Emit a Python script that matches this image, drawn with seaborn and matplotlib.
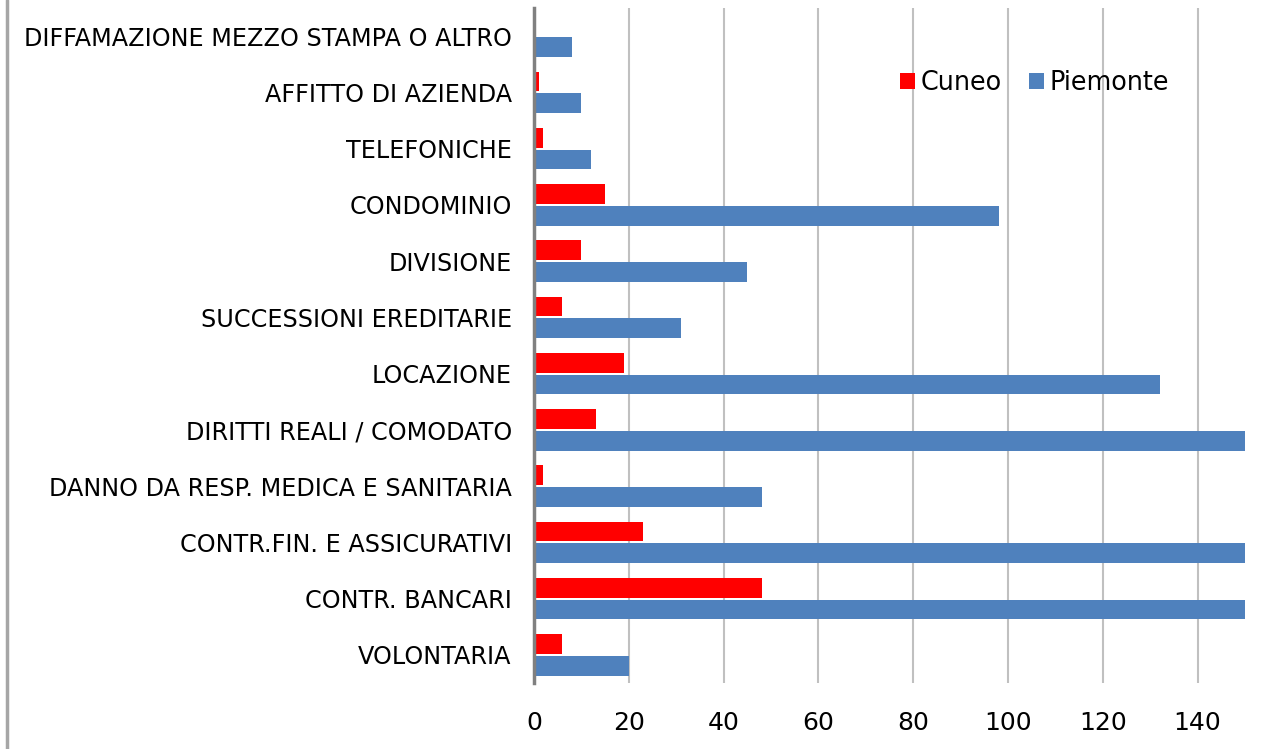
import matplotlib
matplotlib.use("Agg")
import matplotlib.pyplot as plt
import seaborn as sns
import pandas as pd
from matplotlib.lines import Line2D

categories = [
    "DIFFAMAZIONE MEZZO STAMPA O ALTRO",
    "AFFITTO DI AZIENDA",
    "TELEFONICHE",
    "CONDOMINIO",
    "DIVISIONE",
    "SUCCESSIONI EREDITARIE",
    "LOCAZIONE",
    "DIRITTI REALI / COMODATO",
    "DANNO DA RESP. MEDICA E SANITARIA",
    "CONTR.FIN. E ASSICURATIVI",
    "CONTR. BANCARI",
    "VOLONTARIA",
]
cuneo = [0, 1, 2, 15, 10, 6, 19, 13, 2, 23, 48, 6]
piemonte = [8, 10, 12, 98, 45, 31, 132, 165, 48, 190, 240, 20]
series_names = ["Cuneo", "Piemonte"]
x_ticks = [0, 20, 40, 60, 80, 100, 120, 140]

df = pd.DataFrame({
    "categoria": categories * 2,
    "valore": cuneo + piemonte,
    "serie": [series_names[0]] * len(categories) + [series_names[1]] * len(categories),
})

sns.set_theme(style="white")
plt.rcParams['font.family'] = ['DejaVu Sans']

fig = plt.figure(figsize=(12.8, 7.49), dpi=100)
ax = fig.add_axes([534 / 1280, 1 - 683 / 749, (1245 - 534) / 1280, (683 - 8) / 749])

sns.barplot(data=df, y="categoria", x="valore", hue="serie", order=categories,
            hue_order=series_names, palette={"Cuneo": "#FF0000", "Piemonte": "#4F81BD"},
            orient="h", width=0.78, gap=0.1, saturation=1, linewidth=0,
            ax=ax, zorder=3)

ax.set_xlim(0, 150)
ax.set_xticks(x_ticks)
ax.set_xticklabels([str(t) for t in x_ticks], fontsize=18, color="black")
ax.tick_params(axis="x", length=0, pad=20)
ax.tick_params(axis="y", length=0, pad=16, labelsize=17.2, labelcolor="black")
ax.set_xlabel("")
ax.set_ylabel("")
ax.xaxis.grid(True, color="#C0C0C0", linewidth=1.5, zorder=0)
ax.set_axisbelow(True)
for s in ["top", "right", "bottom"]:
    ax.spines[s].set_visible(False)
ax.spines["left"].set_color("#808080")
ax.spines["left"].set_linewidth(2.5)
ax.spines["left"].set_zorder(5)

leg = ax.legend(loc="upper left", bbox_to_anchor=(0.483, 0.942), ncol=2, frameon=False,
                fontsize=18.4, handlelength=0.58, handleheight=0.58, handletextpad=0.22,
                columnspacing=1.05, labelcolor="black")

fig.add_artist(Line2D([7 / 1280, 7 / 1280], [0, 1], color="#A6A6A6", linewidth=2.5))

fig.savefig("out.png", dpi=100)
